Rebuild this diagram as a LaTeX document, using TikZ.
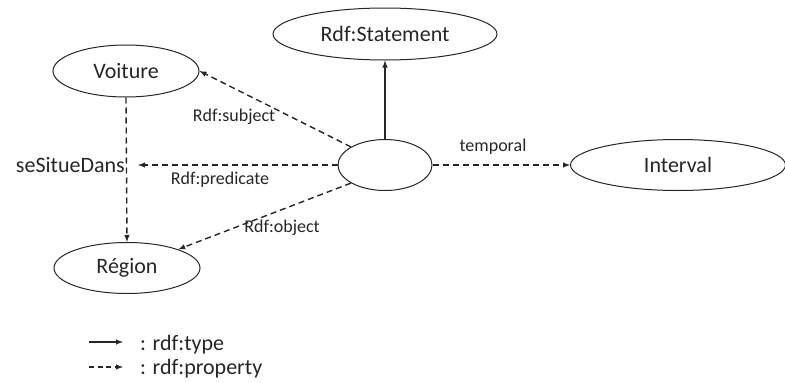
\documentclass[tikz,border=0pt]{standalone}
\usepackage{fontspec}
\setmainfont{Carlito}
\usepackage{tikz}
\usetikzlibrary{arrows,positioning,shapes.geometric}

\tikzset{
    cls/.style={draw,ellipse,inner sep=0pt,line width=1pt,font=\fontsize{22}{25}\selectfont},
    lbl/.style={font=\fontsize{18}{21}\selectfont,inner sep=1pt},
    typ/.style={-latex,line width=1.4pt},
    prop/.style={-latex,line width=1.4pt,dash pattern=on 6pt off 4pt}
}

\begin{document}
\begin{tikzpicture}[x=1pt,y=1pt,color=black!85]
    \useasboundingbox (0,0) rectangle (785,-383);

    % Classes
    \node[cls,minimum width=224pt,minimum height=52pt] (stmt) at (385,-34) {Rdf:Statement};
    \node[cls,minimum width=146pt,minimum height=52pt] (voiture) at (126,-71) {Voiture};
    \node[cls,minimum width=146pt,minimum height=51pt] (region) at (127,-268) {R\'egion};
    \node[cls,minimum width=94pt,minimum height=51pt] (blank) at (385,-165) {};
    \node[cls,minimum width=215pt,minimum height=51pt] (interval) at (678,-165) {Interval};

    % Property name
    \node[font=\fontsize{22}{25}\selectfont,anchor=east,inner sep=0pt] (sesitue) at (125,-165) {seSitueDans};
    \coordinate (predend) at (138,-165);

    % Edges
    \draw[typ] (blank.north) -- (stmt.south);
    \draw[prop] (blank.152) -- (voiture.east);
    \draw[prop] (blank.west) -- (predend);
    \draw[prop] (blank.208) -- (region.20);
    \draw[prop] (blank.east) -- (interval.west);
    \draw[prop] (voiture.south) -- (region.north);

    % Edge labels
    \node[lbl] (lsubj) at (234,-117) {Rdf:subject};
    \node[lbl] (lpred) at (220,-180) {Rdf:predicate};
    \node[lbl] (lobj) at (282,-228) {Rdf:object};
    \node[lbl] (ltemp) at (493,-147) {temporal};

    % Legend
    \coordinate (t1) at (89,-342);
    \coordinate (t2) at (123,-342);
    \coordinate (p1) at (89,-367);
    \coordinate (p2) at (123,-367);
    \draw[typ] (t1) -- (t2);
    \draw[prop,dash pattern=on 5pt off 3.5pt] (p1) -- (p2);
    \node[font=\fontsize{22}{25}\selectfont,anchor=west,inner sep=0pt] (ltype) at (140,-345) {: rdf:type};
    \node[font=\fontsize{22}{25}\selectfont,anchor=west,inner sep=0pt] (lprop) at (140,-369) {: rdf:property};
\end{tikzpicture}
\end{document}
